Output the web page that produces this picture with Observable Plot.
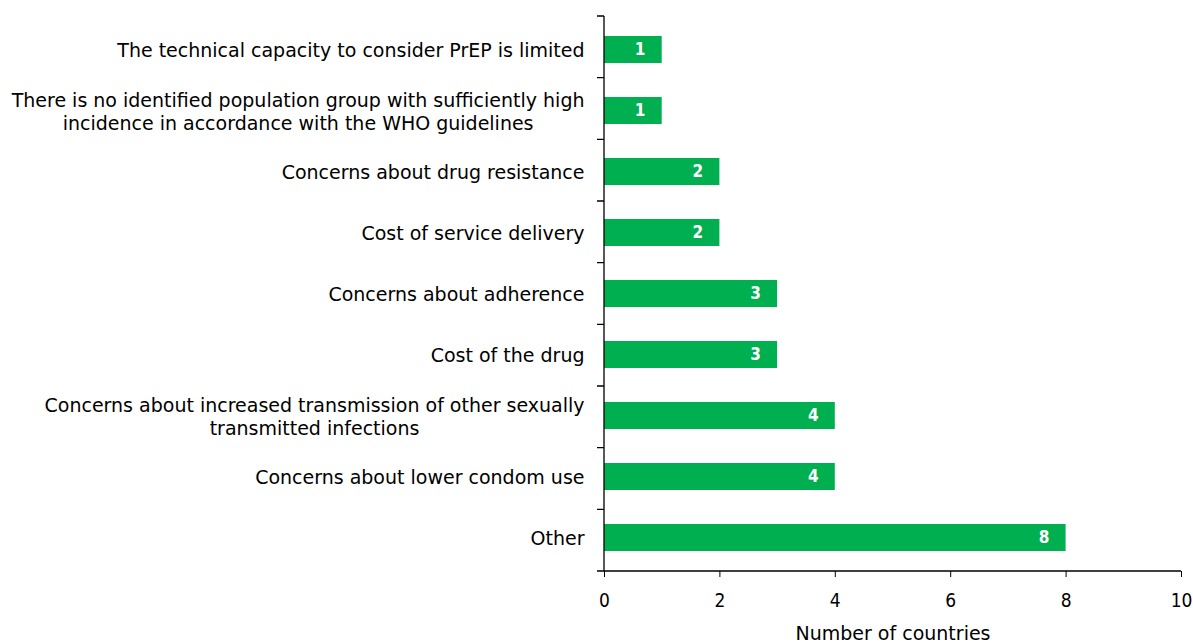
<!DOCTYPE html>
<html>
<head>
<meta charset="utf-8">
<script src="https://cdn.jsdelivr.net/npm/d3@7"></script>
<script src="https://cdn.jsdelivr.net/npm/@observablehq/plot@0.6"></script>
<style>
  html, body { margin: 0; padding: 0; background: #fff; }
  #chart { width: 1193px; height: 642px; }
</style>
</head>
<body>
<div id="chart"></div>
<script>
const categories = [
  "The technical capacity to consider PrEP is limited",
  "There is no identified population group with sufficiently high\nincidence in accordance with the WHO guidelines",
  "Concerns about drug resistance",
  "Cost of service delivery",
  "Concerns about adherence",
  "Cost of the drug",
  "Concerns about increased transmission of other sexually\ntransmitted infections",
  "Concerns about lower condom use",
  "Other"
];
const counts = [1, 1, 2, 2, 3, 3, 4, 4, 8];
const xTicks = [0, 2, 4, 6, 8, 10];
const xLabel = "Number of countries";

const data = categories.map((c, i) => ({category: c, value: counts[i]}));

const FONT_C = "'DejaVu Sans Condensed', 'DejaVu Sans', sans-serif";
const FONT = "'DejaVu Sans', sans-serif";
const GREEN = "#00B050";
const PAD = 0.56;

// custom mark: axis lines + boundary ticks between categories
function axisFrame(index, scales, values, dims) {
  const g = document.createElementNS("http://www.w3.org/2000/svg", "g");
  const y = scales.y, x = scales.x;
  const [r0, r1] = y.range();
  const n = categories.length;
  const step = (r1 - r0) / n;
  const x0 = x(0), x1 = x(10);
  let d = `M${x0},${r0}V${r1}M${x0},${r1}H${x1}`;
  for (let k = 0; k <= n; k++) {
    const yy = r0 + k * step;
    d += `M${x0 - 7},${yy}H${x0}`;
  }
  const p = document.createElementNS("http://www.w3.org/2000/svg", "path");
  p.setAttribute("d", d);
  p.setAttribute("stroke", "#000");
  p.setAttribute("stroke-width", "1.3");
  p.setAttribute("fill", "none");
  g.appendChild(p);
  return g;
}

const chart = Plot.plot({
  width: 1193,
  height: 642,
  marginLeft: 604,
  marginRight: 12,
  marginTop: 16,
  marginBottom: 71,
  style: {fontFamily: FONT, fontSize: "19px", color: "#000", background: "#fff"},
  x: {domain: [0, 10], ticks: xTicks},
  y: {domain: categories, paddingInner: PAD, paddingOuter: PAD / 2},
  marks: [
    Plot.barX(data, {x: "value", y: "category", fill: GREEN}),
    Plot.text(data, {
      x: "value", y: "category", text: d => String(d.value),
      fill: "#fff", fontWeight: "bold", fontSize: 17, fontFamily: FONT_C,
      textAnchor: "middle", dx: -22
    }),
    axisFrame,
    Plot.axisY({tickSize: 0, tickPadding: 20, fontSize: 19, fontFamily: FONT, lineHeight: 1.2, label: null}),
    Plot.axisX({ticks: xTicks, tickSize: 6, tickPadding: 16, fontSize: 19, fontFamily: FONT_C,
      stroke: "#000", label: null}),
    Plot.axisX({ticks: [], tickSize: 0, fontSize: 19, fontFamily: FONT,
      label: xLabel, labelAnchor: "center", labelOffset: 68, labelArrow: false})
  ]
});

document.getElementById("chart").appendChild(chart);

// center multi-line labels relative to each other, block right-aligned
chart.querySelectorAll("text").forEach(t => {
  const spans = t.querySelectorAll("tspan");
  if (spans.length > 1) {
    let maxW = 0;
    spans.forEach(s => { maxW = Math.max(maxW, s.getComputedTextLength()); });
    t.setAttribute("text-anchor", "middle");
    spans.forEach(s => s.setAttribute("text-anchor", "middle"));
    const tr = t.getAttribute("transform") || "";
    t.setAttribute("transform", tr + ` translate(${-maxW / 2},0)`);
  }
});
</script>
</body>
</html>
